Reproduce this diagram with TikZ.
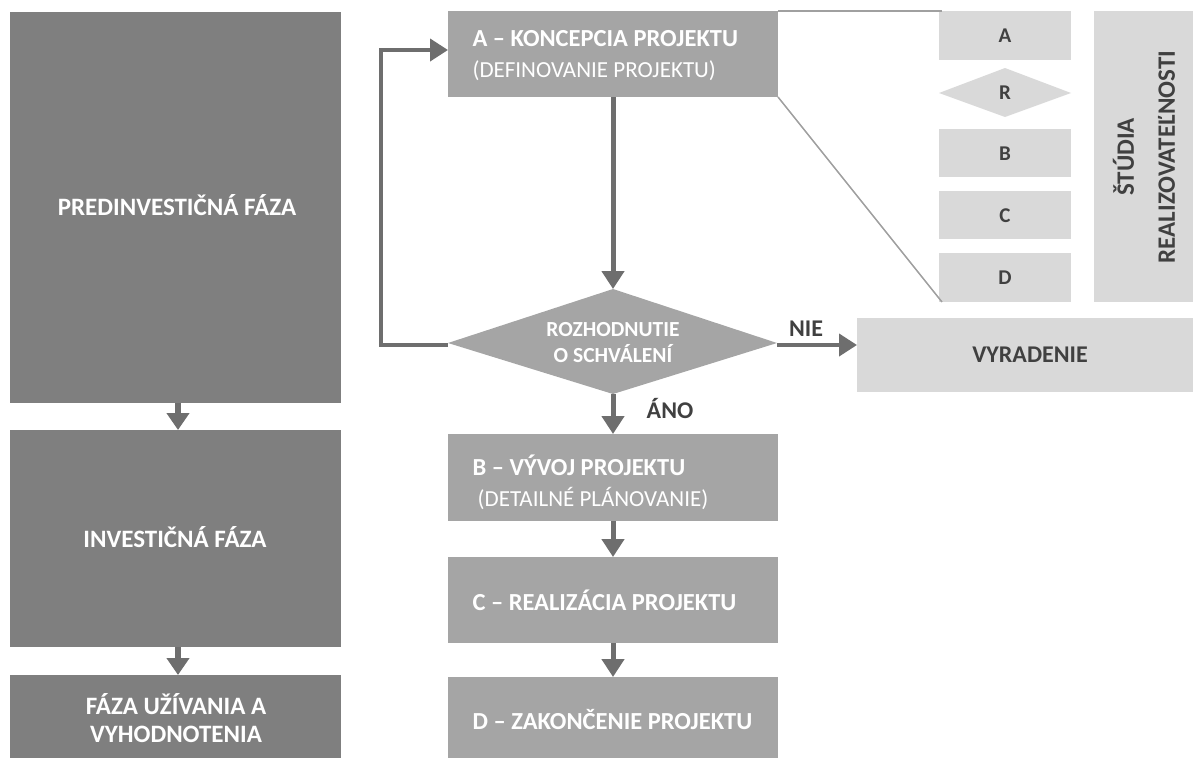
\documentclass[tikz,border=0pt]{standalone}
\usepackage{fontspec}
\setmainfont{Carlito}
\usetikzlibrary{arrows.meta,shapes.geometric}
\definecolor{darkbox}{HTML}{7F7F7F}
\definecolor{midbox}{HTML}{A5A5A5}
\definecolor{lightbox}{HTML}{D9D9D9}
\definecolor{arrowgray}{HTML}{6E6E6E}
\definecolor{labelgray}{HTML}{404040}
\definecolor{thinline}{HTML}{A0A0A0}
\tikzset{
  phase/.style={draw=none, text=white, font=\bfseries\fontsize{25}{28}\selectfont, align=center},
  stagetext/.style={anchor=west, text=white, align=left, font=\fontsize{23}{31}\selectfont},
  stagebold/.style={anchor=west, text=white, font=\bfseries\fontsize{24.5}{28}\selectfont},
  smallbox/.style={draw=none, text=labelgray, font=\bfseries\fontsize{21}{24}\selectfont},
  flow/.style={draw=arrowgray, line width=5pt, -{Triangle[width=22pt,length=18pt]}},
  loopline/.style={draw=arrowgray, line width=4pt, -{Triangle[width=22pt,length=18pt]}},
  branchlabel/.style={text=labelgray, font=\bfseries\fontsize{24}{26}\selectfont},
}
\begin{document}
\begin{tikzpicture}[x=1pt,y=-1pt]
\useasboundingbox (0,0) rectangle (1193,758);

% phases of the project life cycle
\fill[darkbox] (10,12) rectangle (341,403);
\node[phase] (pre) at (177,205) {PREDINVESTIČNÁ FÁZA};
\coordinate (preS) at (178,403);
\fill[darkbox] (10,430) rectangle (341,647);
\node[phase] (inv) at (175,537) {INVESTIČNÁ FÁZA};
\coordinate (invN) at (178,430);
\coordinate (invS) at (178,647);
\fill[darkbox] (10,675) rectangle (341,758);
\node[phase] (use) at (176,718) {FÁZA UŽÍVANIA A\\VYHODNOTENIA};
\coordinate (useN) at (178,675);

\draw[flow, line width=6pt, -{Triangle[width=22pt,length=17pt]}] (preS) -- (invN);
\draw[flow, line width=6pt, -{Triangle[width=22pt,length=17pt]}] (invS) -- (useN);

% stage boxes
\fill[midbox] (448,11) rectangle (778,97);
\node[stagetext] (A) at (469,56)
  {{\bfseries\fontsize{24.5}{31}\selectfont A – KONCEPCIA PROJEKTU}\\(DEFINOVANIE PROJEKTU)};
\coordinate (AW) at (448,50);
\coordinate (AS) at (613,97);
\coordinate (ANE) at (778,11);
\coordinate (ASE) at (778,97);

\fill[midbox] (448,434) rectangle (778,521);
\node[stagetext] (B) at (469,482)
  {{\bfseries\fontsize{24.5}{31}\selectfont B – VÝVOJ PROJEKTU}\\\ (DETAILNÉ PLÁNOVANIE)};
\coordinate (BN) at (613,434);
\coordinate (BS) at (613,521);

\fill[midbox] (448,557) rectangle (778,643);
\node[stagebold] (C) at (469,600) {C – REALIZÁCIA PROJEKTU};
\coordinate (CN) at (613,557);
\coordinate (CS) at (613,643);

\fill[midbox] (448,677) rectangle (778,758);
\node[stagebold] (D) at (469,720) {D – ZAKONČENIE PROJEKTU};
\coordinate (DN) at (613,677);

% decision
\fill[midbox] (448,343) -- (613,289) -- (777,343) -- (613,394) -- cycle;
\node[text=white, align=center, font=\bfseries\fontsize{21.5}{26}\selectfont] (R) at (613,343) {ROZHODNUTIE\\O SCHVÁLENÍ};
\coordinate (RN) at (613,289);
\coordinate (RS) at (613,394);
\coordinate (RW) at (448,345);
\coordinate (RE) at (777,345);

% rejection
\fill[lightbox] (857,318) rectangle (1193,392);
\node[text=labelgray, font=\bfseries\fontsize{24}{26}\selectfont] (V) at (1030,355) {VYRADENIE};
\coordinate (VW) at (857,345);

% connectors
\draw[flow] (AS) -- (RN);
\draw[flow] (RS) -- (BN);
\draw[flow] (BS) -- (CN);
\draw[flow] (CS) -- (DN);
\draw[loopline] (RW) -- (381,345) -- (381,50) -- (AW);
\draw[loopline] (RE) -- (VW);
\node[branchlabel] (nie) at (806,329) {NIE};
\node[branchlabel] (ano) at (670,408) {ÁNO};

% feasibility study detail
\fill[lightbox] (939,11) rectangle (1071,60);
\node[smallbox] (sA) at (1005,36) {A};
\fill[lightbox] (939,93) -- (1005,68) -- (1071,93) -- (1005,117) -- cycle;
\node[smallbox] (sR) at (1005,93) {R};
\fill[lightbox] (939,129) rectangle (1071,177);
\node[smallbox] (sB) at (1005,154) {B};
\fill[lightbox] (939,191) rectangle (1071,239);
\node[smallbox] (sC) at (1005,216) {C};
\fill[lightbox] (939,253) rectangle (1071,302);
\node[smallbox] (sD) at (1005,278) {D};
\coordinate (zoomTop) at (942,11);
\coordinate (zoomBot) at (942,302);
\draw[thinline, line width=1.5pt] (ANE) -- (zoomTop);
\draw[thinline, line width=1.5pt] (ASE) -- (zoomBot);

\fill[lightbox] (1094,11) rectangle (1193,302);
\node[rotate=90, text=labelgray, align=center, font=\bfseries\fontsize{25}{41}\selectfont] (study) at (1144,157) {ŠTÚDIA\\REALIZOVATEĽNOSTI};
\end{tikzpicture}
\end{document}
